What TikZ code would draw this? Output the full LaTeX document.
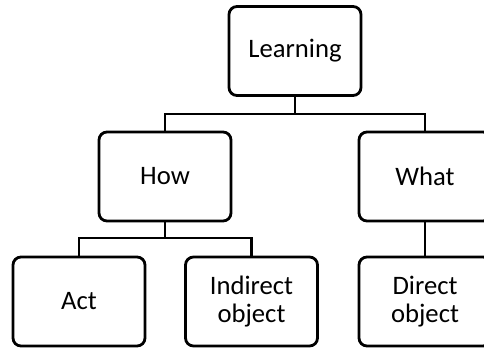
\documentclass[tikz,border=0pt]{standalone}
\usepackage{fontspec}
\setmainfont{Carlito}
\begin{document}
\begin{tikzpicture}[x=0.75pt,y=-0.75pt,
  box/.style={draw=black, line width=2.1pt, rounded corners=6pt, minimum width=132*0.75pt, minimum height=89*0.75pt, align=center, inner sep=0pt, font=\fontsize{20pt}{21pt}\selectfont},
  link/.style={draw=black, line width=2.1pt}]
\useasboundingbox (0,0) rectangle (484,347);
\node[box] (L) at (295,51) {Learning};
\node[box] (How) at (165,176.5) {How};
\node[box] (What) at (425,176.5) {What};
\node[box] (Act) at (79,301.5) {Act};
\node[box] (Ind) at (251.5,301.5) {Indirect\\object};
\node[box] (Dir) at (425,301.5) {Direct\\object};
\coordinate (j1) at (295,114);
\coordinate (j2) at (165,238);
\draw[link] (L.south) -- (j1);
\draw[link] (How.north) |- (j1) -| (What.north);
\draw[link] (How.south) -- (j2);
\draw[link] (Act.north) |- (j2) -| (Ind.north);
\draw[link] (What.south) -- (Dir.north);
\end{tikzpicture}
\end{document}
